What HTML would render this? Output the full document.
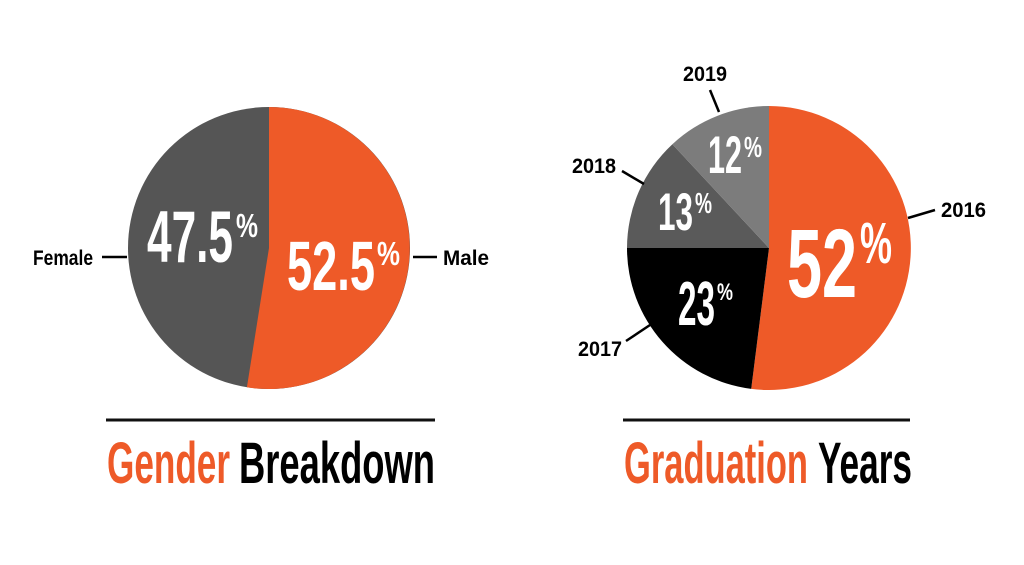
<!DOCTYPE html>
<html><head><meta charset="utf-8"><style>
html,body{margin:0;padding:0;background:#fff;}
svg{display:block;}
text{font-family:"Liberation Sans Narrow","Liberation Sans",sans-serif;font-weight:bold;}
</style></head><body>
<svg width="1024" height="565" viewBox="0 0 1024 565" xmlns="http://www.w3.org/2000/svg">
<rect width="1024" height="565" fill="#fff"/>
<!-- Left pie -->
<circle cx="269" cy="248" r="141" fill="#555555"/>
<path d="M269,248 L269,107 A141,141 0 1,1 246.9,387.3 Z" fill="#EE5A28"/>
<text x="147" y="262" font-size="73" fill="#fff" textLength="86" lengthAdjust="spacingAndGlyphs">47.5</text>
<text x="236" y="237" font-size="33" fill="#fff" textLength="22" lengthAdjust="spacingAndGlyphs">%</text>
<text x="287" y="290" font-size="70" fill="#fff" textLength="88" lengthAdjust="spacingAndGlyphs">52.5</text>
<text x="377" y="265" font-size="33" fill="#fff" textLength="23" lengthAdjust="spacingAndGlyphs">%</text>
<text x="33" y="265" font-size="21" fill="#000" textLength="60" lengthAdjust="spacingAndGlyphs">Female</text>
<line x1="102" y1="257" x2="127" y2="257" stroke="#000" stroke-width="2.5"/>
<text x="443" y="265" font-size="21" fill="#000" textLength="46" lengthAdjust="spacingAndGlyphs">Male</text>
<line x1="413" y1="257" x2="437" y2="257" stroke="#000" stroke-width="2.5"/>
<line x1="106" y1="420" x2="435" y2="420" stroke="#111" stroke-width="3"/>
<text x="107" y="483" font-size="58" fill="#EE5A28" textLength="123" lengthAdjust="spacingAndGlyphs">Gender</text>
<text x="239" y="483" font-size="58" fill="#000" textLength="196" lengthAdjust="spacingAndGlyphs">Breakdown</text>
<!-- Right pie -->
<path d="M769,248 L769,106 A142,142 0 1,1 751.2,388.9 Z" fill="#EE5A28"/>
<path d="M769,248 L751.2,388.9 A142,142 0 0,1 627,248 Z" fill="#000"/>
<path d="M769,248 L627,248 A142,142 0 0,1 672.4,144.2 Z" fill="#5a5a5a"/>
<path d="M769,248 L672.4,144.2 A142,142 0 0,1 769,106 Z" fill="#7c7c7c"/>
<text x="787" y="297" font-size="97" fill="#fff" textLength="70" lengthAdjust="spacingAndGlyphs">52</text>
<text x="860" y="263" font-size="58" fill="#fff" textLength="32" lengthAdjust="spacingAndGlyphs">%</text>
<text x="678" y="325" font-size="62" fill="#fff" textLength="37" lengthAdjust="spacingAndGlyphs">23</text>
<text x="717" y="300" font-size="24" fill="#fff" textLength="16" lengthAdjust="spacingAndGlyphs">%</text>
<text x="658" y="230" font-size="53" fill="#fff" textLength="35" lengthAdjust="spacingAndGlyphs">13</text>
<text x="695" y="213" font-size="29" fill="#fff" textLength="17" lengthAdjust="spacingAndGlyphs">%</text>
<text x="708" y="173" font-size="53" fill="#fff" textLength="34" lengthAdjust="spacingAndGlyphs">12</text>
<text x="744" y="157" font-size="29" fill="#fff" textLength="18" lengthAdjust="spacingAndGlyphs">%</text>
<text x="683" y="81" font-size="21" fill="#000" textLength="44" lengthAdjust="spacingAndGlyphs">2019</text>
<line x1="710" y1="90" x2="719" y2="112" stroke="#000" stroke-width="2.5"/>
<text x="572" y="173" font-size="21" fill="#000" textLength="44" lengthAdjust="spacingAndGlyphs">2018</text>
<line x1="622" y1="171" x2="644" y2="184" stroke="#000" stroke-width="2.5"/>
<text x="941" y="217" font-size="21" fill="#000" textLength="45" lengthAdjust="spacingAndGlyphs">2016</text>
<line x1="908" y1="218" x2="935" y2="210" stroke="#000" stroke-width="2.5"/>
<text x="578" y="356" font-size="21" fill="#000" textLength="44" lengthAdjust="spacingAndGlyphs">2017</text>
<line x1="626" y1="341" x2="650" y2="325" stroke="#000" stroke-width="2.5"/>
<line x1="623" y1="420" x2="910" y2="420" stroke="#111" stroke-width="3"/>
<text x="624" y="483" font-size="58" fill="#EE5A28" textLength="184" lengthAdjust="spacingAndGlyphs">Graduation</text>
<text x="818" y="483" font-size="58" fill="#000" textLength="94" lengthAdjust="spacingAndGlyphs">Years</text>
</svg>
</body></html>
